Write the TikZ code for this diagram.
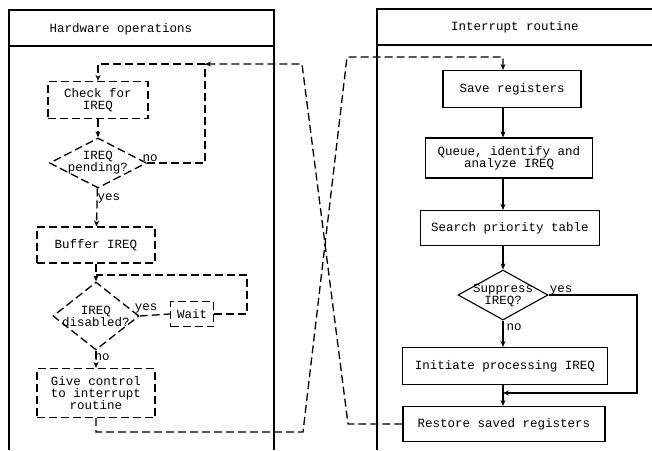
\documentclass[tikz,border=0pt]{standalone}
\usepackage{fontspec}
\setmonofont{Liberation Mono}
\usetikzlibrary{shapes.geometric,arrows.meta}
\begin{document}
\begin{tikzpicture}[x=1pt,y=-1pt,
  every node/.style={font=\ttfamily\fontsize{12.5}{12}\selectfont},
  hw/.style={draw, dash pattern=on 8pt off 4pt, line width=1.3pt, align=center, inner sep=0pt},
  sw/.style={draw, line width=1.1pt, align=center, inner sep=0pt},
  dec/.style={diamond, inner sep=0pt},
  lbl/.style={inner sep=0pt},
  line/.style={line width=1.1pt},
  hwline/.style={line width=1.3pt, dash pattern=on 8pt off 4pt},
  tip/.style={-{Stealth[length=6pt,width=5pt]}},
  flow/.style={line, tip},
  hwflow/.style={hwline, tip},
  frame/.style={line width=1.1pt}]
\useasboundingbox (0,0) rectangle (652,450);

% the two panels
\draw[frame] (9,450) -- (9,10) -- (274,10) -- (274,450);
\draw[frame] (9,46) -- (274,46);
\node (hwtitle) at (121,29) {Hardware operations};
\draw[frame] (377,450) -- (377,9) -- (652,9);
\draw[frame] (377,45) -- (652,45);
\node (irtitle) at (515,27) {Interrupt routine};

% hardware side (dashed)
\node[hw, minimum width=100pt, minimum height=37pt] (chk) at (98,100) {Check for\\IREQ};
\node[hw, dec, minimum width=97pt, minimum height=50pt,
      label={[align=center]center:IREQ\\pending?}] (pend) at (98,163) {};
\node[hw, minimum width=118pt, minimum height=36pt] (buf) at (96,245) {Buffer IREQ};
\node[hw, dec, minimum width=86pt, minimum height=68pt,
      label={[align=center]center:IREQ\\disabled?}] (dis) at (96,316) {};
\node[hw, minimum width=43pt, minimum height=25pt] (wait) at (192,314) {Wait};
\node[hw, minimum width=118pt, minimum height=49pt] (give) at (96,393) {Give control\\to interrupt\\routine};

% interrupt routine side (solid)
\node[sw, minimum width=138pt, minimum height=37pt] (save) at (512,89) {Save registers};
\node[sw, minimum width=167pt, minimum height=40pt] (queue) at (509,158) {Queue, identify and\\analyze IREQ};
\node[sw, minimum width=179pt, minimum height=35pt] (search) at (510,228) {Search priority table};
\node[sw, dec, minimum width=90pt, minimum height=50pt,
      label={[align=center]center:Suppress\\IREQ?}] (supp) at (503,295) {};
\node[sw, minimum width=205pt, minimum height=37pt] (init) at (505,366) {Initiate processing IREQ};
\node[sw, minimum width=202pt, minimum height=35pt] (rest) at (504,424) {Restore saved registers};

% branch labels
\node[lbl] (pno) at (150,158) {no};
\node[lbl] (pyes) at (109,198) {yes};
\node[lbl] (dyes) at (146,308) {yes};
\node[lbl] (dno) at (102,357) {no};
\node[lbl] (syes) at (561,290) {yes};
\node[lbl] (sno) at (514,327) {no};

% routing points
\coordinate (jA) at (205,64);
\coordinate (a1) at (348,424);
\coordinate (a2) at (302,64);
\coordinate (b1) at (303,432);
\coordinate (b2) at (347,57);
\coordinate (lr) at (247,275);
\coordinate (sE) at (637,295);
\coordinate (sS) at (637,393);
\coordinate (jn) at (503,393);

% hardware flow
\draw[hwflow] (chk) -- (pend);
\draw[hwline] (pend.east) -| (jA);
\draw[hwflow] (pend) -- (buf);
\draw[hwflow] (buf.south) -- (dis.north);
\draw[hwline] (dis.east) -- (wait.west);
\draw[hwline] (wait.east) -| (lr) -- (buf.south |- lr);
\draw[hwflow] (dis) -- (give);

% crossing transfers between the panels
\draw[hwflow] (give.south) |- (b1) -- (b2) -| (save.north -| supp);
\draw[hwflow] (rest.west) -- (a1) -- (a2) -- (jA);
\draw[hwflow] (jA) -| (chk.north);

% interrupt routine flow
\draw[flow] (save.south -| supp) -- (queue.north -| supp);
\draw[flow] (queue.south -| supp) -- (search.north -| supp);
\draw[flow] (search.south -| supp) -- (supp.north);
\draw[flow] (supp.south) -- (init.north -| supp);
\draw[flow] (supp.east) -- (sE) -- (sS) -- (jn);
\draw[flow] (init.south -| supp) -- (rest.north -| supp);
\end{tikzpicture}
\end{document}
